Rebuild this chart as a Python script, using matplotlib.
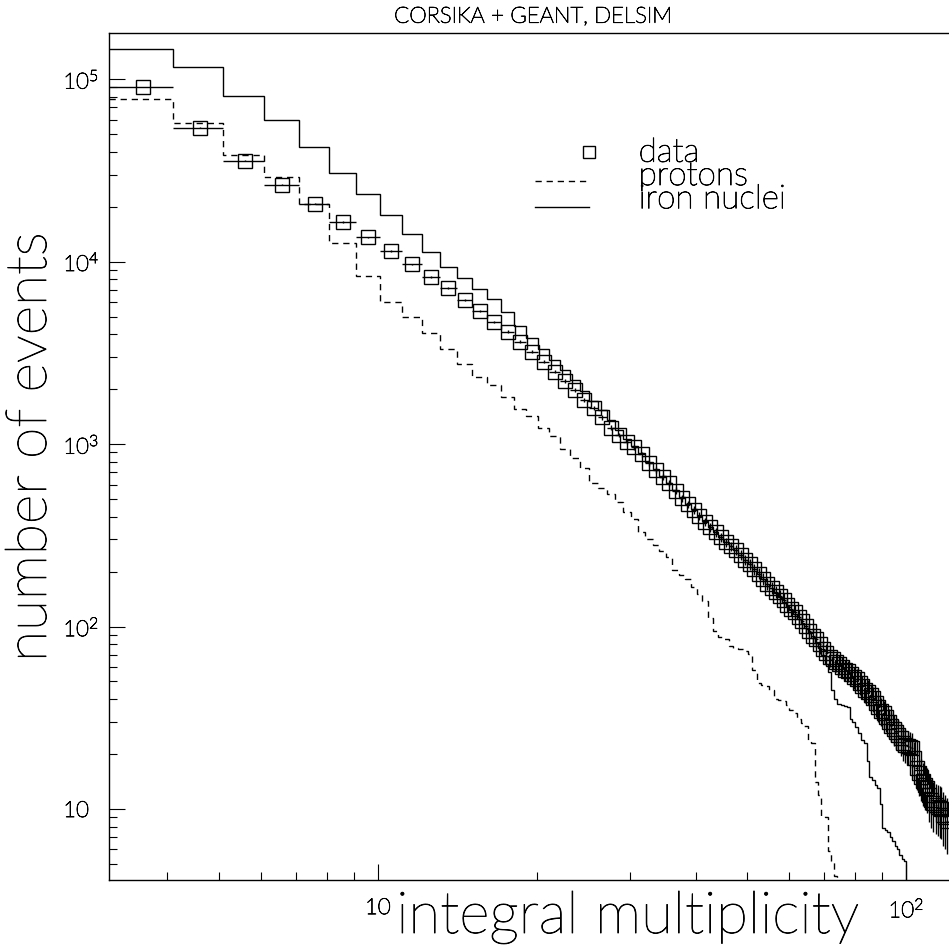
import numpy as np
import matplotlib
matplotlib.use("Agg")
import matplotlib.pyplot as plt
import matplotlib.patheffects as pe

plt.rcParams['font.family'] = ['Lato', 'DejaVu Sans']
plt.rcParams['font.weight'] = 'light'
plt.rcParams['mathtext.fontset'] = 'custom'
plt.rcParams['mathtext.rm'] = 'Lato:light'
plt.rcParams['mathtext.it'] = 'Lato:light'

# histogram bins: unit width, first left edge at 3.1
first_edge = 3.1

# measured integral distribution, one value per bin (centres 3.6 ... 119.6)
data_counts = [
    90400, 54300, 35800, 26400, 20700, 16500, 13600,
    11400, 9640, 8260, 7160, 6180, 5380, 4680, 4130, 3640, 3200,
    2830, 2490, 2220, 1980, 1750, 1585, 1400, 1230, 1120, 1030,
    960, 880, 790, 720, 660, 610, 555, 505, 468, 435,
    405, 375, 350, 328, 308, 290, 275, 262, 246, 232,
    219, 207, 195, 183, 172, 163, 155, 147, 140, 131,
    125, 120, 113, 107, 101, 95, 89, 85, 80, 75,
    72, 68, 66, 64, 62, 60, 58, 57, 55, 53,
    51.5, 49, 47, 45, 44, 42, 40.5, 38, 36, 34.5,
    33.5, 32, 30, 28.5, 27.5, 26.5, 25.5, 24.5, 23, 22.5,
    22, 21.8, 21.5, 19, 16.8, 15.8, 14.9, 14.2, 13.6, 13.1,
    12, 11.2, 10.8, 10.5, 10.3, 10.1, 10.0, 9.3, 9.0, 8.6,
]

# simulation, iron primaries (bins from 3.1 up to 101.1)
iron_counts = [
    147000, 116000, 81300, 59800, 42700, 30700, 23500,
    18100, 14200, 11300, 9300, 8080, 7060, 6270, 5320, 4460, 3820,
    3300, 2900, 2550, 2250, 1950, 1730, 1530, 1350, 1200, 1070,
    975, 890, 800, 730, 665, 610, 560, 510, 470, 438,
    405, 378, 352, 330, 310, 292, 276, 262, 246, 232,
    219, 206, 194, 182, 172, 162, 153, 145, 137, 129,
    123, 117, 110, 104, 98, 92, 86, 81, 76, 70,
    62, 56, 45, 40, 37.5, 37, 36.5, 36, 31, 30,
    28, 26, 24, 23, 18.3, 15, 14.5, 13.5, 13, 10.6,
    7.9, 7.7, 7.5, 7.0, 6.7, 6.3, 6.0, 5.6, 5.3, 5.2,
    1,
]

# simulation, proton primaries (bins from 3.1 up to 75.1)
proton_counts = [
    77600, 57400, 38300, 28900, 20700, 12600, 8340,
    6030, 4980, 4080, 3310, 2740, 2340, 2100, 1800, 1550, 1430,
    1230, 1100, 937, 837, 743, 608, 573, 535, 480, 426,
    390, 330, 300, 280, 260, 240, 205, 192, 182, 165,
    150, 138, 112, 95, 88, 85, 78, 76, 75, 73,
    71, 58, 49, 48, 47, 45, 40, 39.5, 39, 37,
    35, 33.5, 31, 29.7, 28.5, 24, 23, 14, 12, 9.1,
    9.0, 5.9, 5.2, 4.3, 1,
]

legend_labels = ['data', 'protons', 'iron nuclei']
x_ticks = [10, 100]
x_ticklabels = ['10', r'$10^{2}$']
y_ticks = [10, 1e2, 1e3, 1e4, 1e5]
y_ticklabels = ['10', r'$10^{2}$', r'$10^{3}$', r'$10^{4}$', r'$10^{5}$']

data_counts = np.array(data_counts, dtype=float)
iron_counts = np.array(iron_counts, dtype=float)
proton_counts = np.array(proton_counts, dtype=float)

data_edges = first_edge + np.arange(len(data_counts) + 1)
data_x = data_edges[:-1] + 0.5
iron_edges = first_edge + np.arange(len(iron_counts) + 1)
proton_edges = first_edge + np.arange(len(proton_counts) + 1)

dash = (0, (4.5, 3.5))
ink = [pe.withStroke(linewidth=0.6, foreground='k')]

fig = plt.figure(figsize=(9.49, 9.46), dpi=100)
ax = fig.add_axes([109/949, 1-880/946, 841/949, 847/946])

ax.stairs(iron_counts, iron_edges, baseline=None, color='k', lw=1.0)
ax.stairs(proton_counts, proton_edges, baseline=None, color='k', lw=1.0,
          linestyle=dash)
ax.errorbar(data_x, data_counts, xerr=0.5, yerr=np.sqrt(data_counts),
            fmt='s', ms=10.5, mfc='none', mec='k', mew=1.0,
            ecolor='k', elinewidth=1.0, capsize=0)

ax.set_xscale('log')
ax.set_yscale('log')
ax.set_xlim(3.1, 121)
ax.set_ylim(4.08, 1.79e5)

ax.set_xticks(x_ticks)
ax.set_xticklabels(x_ticklabels, fontsize=16)
ax.set_xticks([v * d for d in (1, 10) for v in range(2, 10)
               if 3.1 < v * d < 121], minor=True)
ax.set_xticklabels([], minor=True)
ax.set_yticks(y_ticks)
ax.set_yticklabels(y_ticklabels, fontsize=16, ha='left')
ax.set_yticks([v * d for d in (1, 10, 100, 1000, 10000) for v in range(2, 10)
               if 4.08 < v * d < 1.79e5], minor=True)
ax.set_yticklabels([], minor=True)

ax.tick_params(which='both', direction='in', top=False, right=False, width=0.8)
ax.tick_params(which='major', length=11.5)
ax.tick_params(which='minor', length=5.8)
ax.tick_params(axis='x', which='major', pad=13)
ax.tick_params(axis='y', which='major', pad=33)
for s in ax.spines.values():
    s.set_linewidth(1.0)
for t in ax.get_xticklabels() + ax.get_yticklabels():
    t.set_path_effects(ink)

# legend drawn by hand
ax.plot([0.5702], [0.8595], 's', ms=8, mfc='none', mec='k', mew=1.0,
        transform=ax.transAxes)
ax.plot([0.5071, 0.5702], [0.8253, 0.8253], color='k', lw=1.0,
        linestyle=dash, transform=ax.transAxes)
ax.plot([0.5071, 0.5702], [0.7946, 0.7946], color='k', lw=1.0,
        transform=ax.transAxes)
ax.text(0.6298, 0.7930, '\n'.join(legend_labels), fontsize=24,
        va='baseline', ha='left', linespacing=0.72,
        transform=ax.transAxes, path_effects=ink)

fig.text(533.5/949, 1-22.7/946, 'CORSIKA + GEANT, DELSIM', fontsize=16,
         ha='center', va='baseline', path_effects=ink)
fig.text(628/949, 1-933/946, 'integral multiplicity', fontsize=42,
         ha='center', va='baseline', path_effects=ink)
fig.text(46/949, 1-447/946, 'number of events', fontsize=41, rotation=90,
         ha='center', va='baseline', rotation_mode='anchor', path_effects=ink)

fig.savefig('out.png', dpi=100)
